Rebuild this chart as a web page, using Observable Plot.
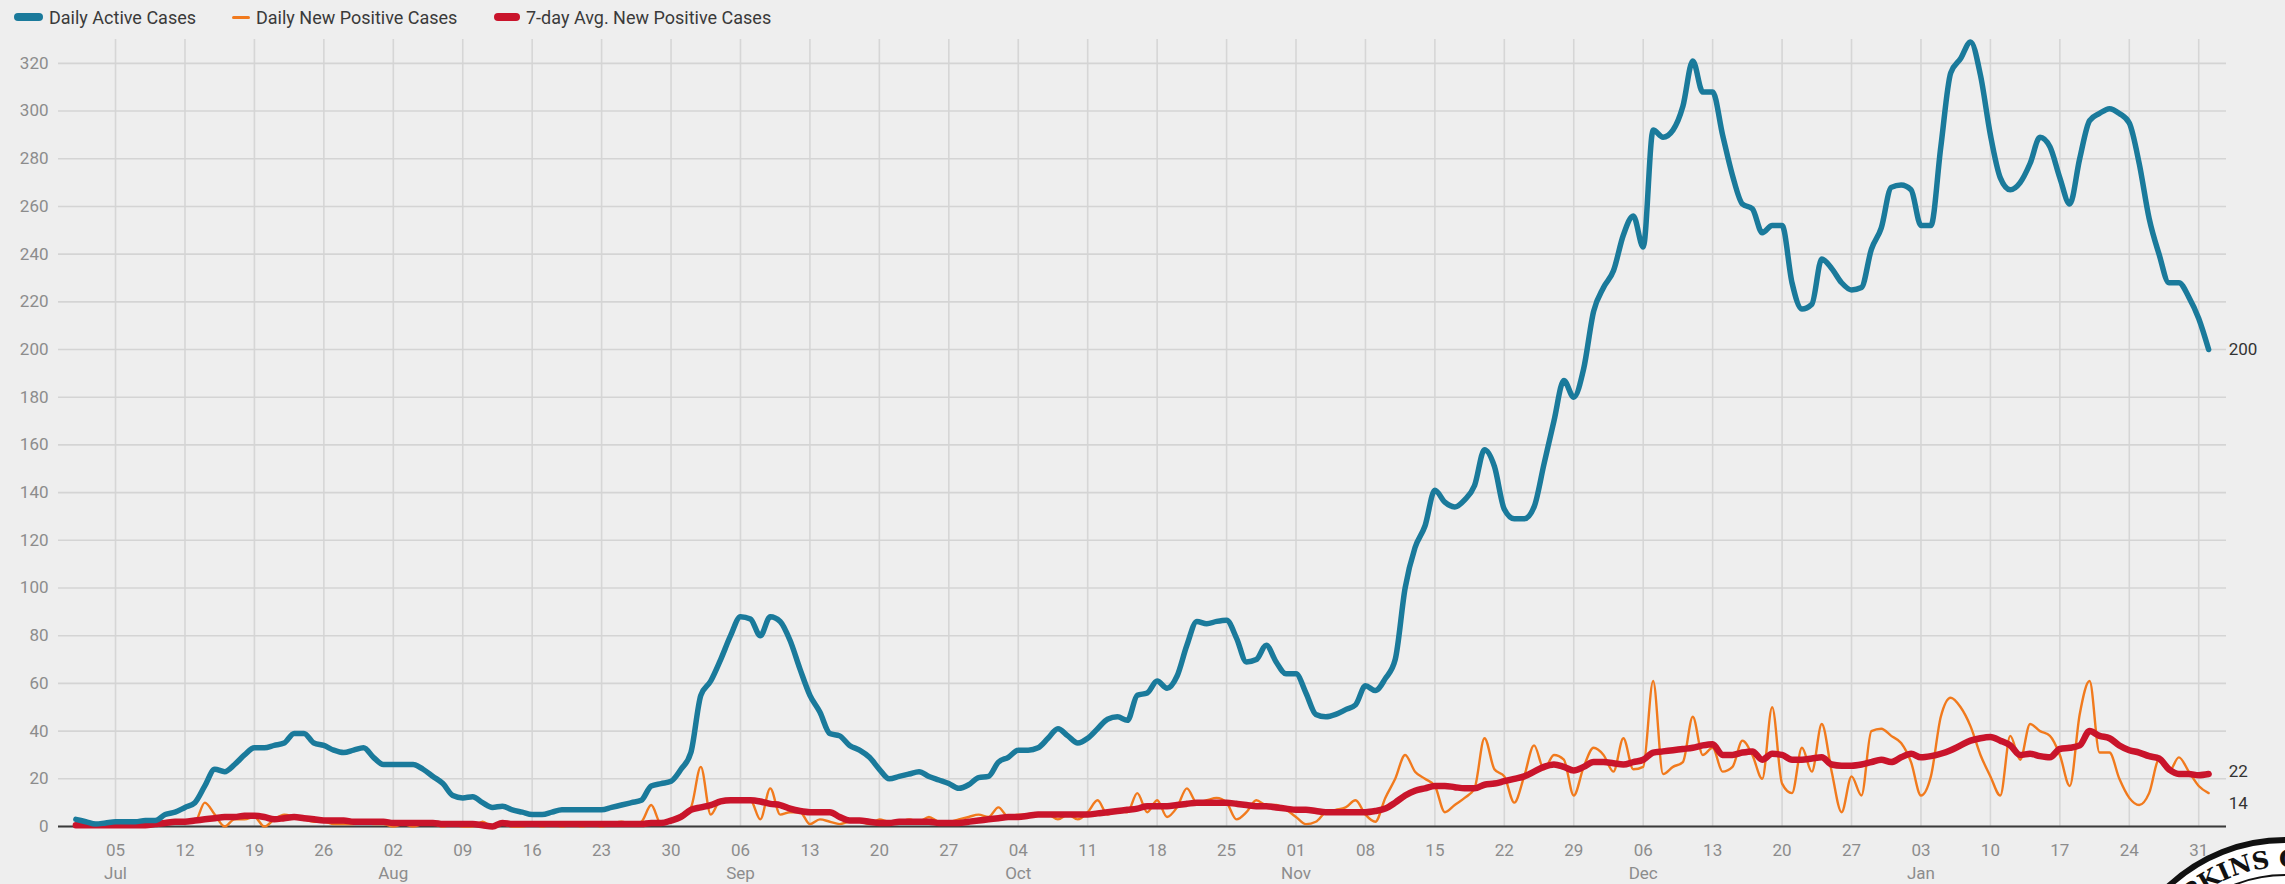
<!DOCTYPE html>
<html><head><meta charset="utf-8">
<script src="https://cdn.jsdelivr.net/npm/d3@7"></script>
<script src="https://cdn.jsdelivr.net/npm/@observablehq/plot@0.6"></script>
<style>
html,body{margin:0;padding:0;background:#eeeeee;}
body{width:2285px;height:884px;overflow:hidden;position:relative;font-family:Roboto,"Noto Sans",sans-serif;}
#legend{position:relative;height:32px;}
.item{position:absolute;top:1px;height:32px;display:flex;align-items:center;font-size:18px;color:#3a3a3a;white-space:nowrap;}
.sw{display:inline-block;border-radius:4px;margin-right:6px;}
#chart{position:absolute;left:0;top:32px;}
#seal{position:absolute;left:2140px;top:800px;width:145px;height:84px;overflow:hidden;}
</style></head><body>
<div id="legend"></div>
<div id="chart"></div>
<div id="seal"></div>
<script>
// ---- data (Jul 1 2020 .. Feb 1 2021, daily) ----
const activeJul = [3,2,1,1.5,2,2,2,2.5,2.5,5,6,8,10,17,24,23,26,30,33,33,34,35,39,39,35,34,32,31,32,33,29];
const activeAug = [26,26,26,26,24,21,18,13,12,12.5,10,8,8.5,7,6,5,5,6,7,7,7,7,7,8,9,10,11,17,18,19,24];
const activeSep = [31,55,61,70,80,88,87,80,88,86,78,66,55,48,39,38,34,32,29,24,20,21,22,23,21,19.5,18,16,17.5,20.5];
const activeOct = [21,27,29,32,32,33,37,41,38,35,37,41,45,46,44.5,55,56,61,58,63,76,86,85,86,86.5,79,69,70,76,69,64];
const activeNov = [64,56,47,46,47,49,51,59,57,62,70,100,117,126,141,136,134,137,143,158,151,133,129,129,134,152,170,187,180,192];
const activeDec = [216,226,233,248,256,243,292,289,292,302,321,308,308,290,273,261,259,249,252,252,228,217,219,238,234,228,225,226,242,251,268];
const activeJan = [269,267,252,252,285,316,322,329,315,290,272,267,270,278,289,285,272,261,280,296,299,301,299,295,278,255,240,228,228,222,213];
const activeFeb = [200];

const newJul = [0,0,0,0,0,0,0,0,1,1,2,2,2,10,5,0,3,3,4,0,3,5,4,3,2,2,1,1,1,2,1];
const newAug = [1,0,1,0,1,1,0,1,0,0,2,0,1,0,0,1,0,1,0,1,0,1,0,1,2,1,2,9,1,2,5];
const newSep = [8,25,5,11,11,11,11,3,16,5,6,6,1,3,2,1,2,2,1,3,2,2,3,2,4,2,2,3,4,5];
const newOct = [4,8,4,5,5,5,5,3,5,3,6,11,5,7,6,14,6,11,4,8,16,10,11,12,10,3,6,11,9,9,7];
const newNov = [4,1,2,6,7,8,11,5,2,12,20,30,23,20,17,6,9,12,16,37,24,21,10,21,34,24,30,28,13,25];
const newDec = [33,30,23,37,24,25,61,22,25,27,46,30,33,23,25,36,30,20,50,18,14,33,23,43,23,6,21,13,40,41,38];
const newJan = [35,27,13,21,46,54,50,42,30,21,13,38,28,43,40,38,30,17,47,61,31,31,20,12,9,14,28,23,29,23,17];
const newFeb = [14];

const avgJul = [0.5,0.5,0.5,0.5,0.5,0.5,0.5,0.5,1,1.5,2,2,2.5,3,3.5,4,4,4.5,4.5,4,3,3.5,4,3.5,3,2.5,2.5,2.5,2,2,2];
const avgAug = [2,1.5,1.5,1.5,1.5,1.5,1,1,1,1,0.5,0,1.5,1,1,1,1,1,1,1,1,1,1,1,1,1,1,1.5,1.5,2.5,4];
const avgSep = [7,8,9,10.5,11,11,11,10.5,9.5,9,7.5,6.5,6,6,6,4,2.5,2.5,2,1.5,1.5,2,2,2,2,1.5,1.5,1.5,2,2.5];
const avgOct = [3,3.5,4,4,4.5,5,5,5,5,5,5,5.5,6,6.5,7,7.5,8.5,8.5,8.5,9,9.5,10,10,10,10,9.5,9,8.5,8.5,8,7.5];
const avgNov = [7,7,6.5,6,6,6,6,6,6.5,7.5,10,13,15,16,17,17,16.5,16,16,17.5,18,19,20,21,23,25,26,25,23.5,25];
const avgDec = [27,27,26.5,26,27,28,31,31.5,32,32.5,33,34,34.5,30,30,31,31.5,28,30.5,30,28,28,28.5,29,26,25.5,25.5,26,27,28,27];
const avgJan = [29,30.5,29,29.5,30.5,32,34,36,37,37.5,36,34,30,30.5,29.5,29,32.5,33,34,40,38,37,34,32,31,29.5,28.5,24,22,22,21.5];
const avgFeb = [22];

const seriesNames = ["Daily Active Cases", "Daily New Positive Cases", "7-day Avg. New Positive Cases"];
const seriesColors = ["#1a7a9b", "#f17a1d", "#c9142b"];
const yTickValues = [0,20,40,60,80,100,120,140,160,180,200,220,240,260,280,300,320];

// ---- assemble ----
const active = [].concat(activeJul, activeAug, activeSep, activeOct, activeNov, activeDec, activeJan, activeFeb);
const newPos = [].concat(newJul, newAug, newSep, newOct, newNov, newDec, newJan, newFeb);
const avg7 = [].concat(avgJul, avgAug, avgSep, avgOct, avgNov, avgDec, avgJan, avgFeb);
const DAY = 864e5;
const t0 = Date.UTC(2020, 6, 1);
const dates = active.map((_, i) => new Date(t0 + i * DAY));
const rows = (vals) => vals.map((v, i) => ({date: dates[i], value: v}));

const ref = Date.UTC(2020, 6, 5);
const weekTicks = d3.utcSunday.range(new Date(ref), new Date(Date.UTC(2021, 1, 2)));
const monthTicks = weekTicks.filter(d => d.getUTCDate() <= 7);

// ---- legend ----
const legend = document.getElementById("legend");
const legLeft = [14, 232, 494];
const swW = [29, 18, 26], swH = [8, 3, 8];
seriesNames.forEach((n, i) => {
  const it = document.createElement("div");
  it.className = "item";
  it.style.left = legLeft[i] + "px";
  const sw = document.createElement("span");
  sw.className = "sw";
  sw.style.width = swW[i] + "px";
  sw.style.height = swH[i] + "px";
  sw.style.background = seriesColors[i];
  it.appendChild(sw);
  it.appendChild(document.createTextNode(n));
  legend.appendChild(it);
});

// ---- chart ----
const last = active.length - 1;
const endLabel = (vals, dy) => Plot.text([{date: dates[last], value: vals[last]}], {
  x: "date", y: "value", text: d => String(d.value), dx: 20, dy, textAnchor: "start", fill: "#333", fontSize: 17
});

const chart = Plot.plot({
  width: 2285,
  height: 852,
  marginLeft: 58,
  marginRight: 59,
  marginTop: 7,
  marginBottom: 58,
  style: {background: "#eeeeee", color: "#8c8c8c", fontFamily: "Roboto, 'Noto Sans', sans-serif", fontSize: "17px", overflow: "visible"},
  x: {type: "utc", domain: [new Date(ref - 5.75 * DAY), new Date(ref + 212.8 * DAY)]},
  y: {domain: [0, 330]},
  marks: [
    Plot.ruleX(weekTicks, {stroke: "#d6d6d6", strokeWidth: 1.6}),
    Plot.ruleY(yTickValues, {stroke: "#d4d4d4", strokeWidth: 1.6}),
    Plot.ruleY([0], {stroke: "#3a3a3a", strokeWidth: 2}),
    Plot.line(rows(newPos), {x: "date", y: "value", stroke: seriesColors[1], strokeWidth: 2.4, curve: "monotone-x"}),
    Plot.line(rows(avg7), {x: "date", y: "value", stroke: seriesColors[2], strokeWidth: 6.5, curve: "monotone-x", strokeLinecap: "round", strokeLinejoin: "round"}),
    Plot.line(rows(active), {x: "date", y: "value", stroke: seriesColors[0], strokeWidth: 5.5, curve: "monotone-x", strokeLinecap: "round", strokeLinejoin: "round"}),
    endLabel(active, 0),
    endLabel(avg7, -2),
    endLabel(newPos, 10),
    Plot.axisY({ticks: yTickValues, tickSize: 0, tickPadding: 10, label: null, fontSize: 17}),
    Plot.axisX({ticks: weekTicks, tickFormat: d3.utcFormat("%d"), tickSize: 0, tickPadding: 17, label: null, fontSize: 17}),
    Plot.axisX({ticks: monthTicks, tickFormat: d3.utcFormat("%b"), tickSize: 0, tickPadding: 40, label: null, fontSize: 17})
  ]
});
document.getElementById("chart").appendChild(chart);

// ---- decorative seal (bottom-right corner, mostly outside the frame) ----
const ns = "http://www.w3.org/2000/svg";
const seal = document.createElementNS(ns, "svg");
seal.setAttribute("width", 145); seal.setAttribute("height", 84);
const cx = 145, cy = 210, R = 170, Rt = 143;
const half = Math.PI * Rt / 2;
seal.innerHTML = `
<circle cx="${cx}" cy="${cy}" r="${R}" fill="#fff" stroke="#111" stroke-width="6"/>
<circle cx="${cx}" cy="${cy}" r="${Rt - 8}" fill="none" stroke="#111" stroke-width="2"/>
<path id="arc" d="M ${cx-Rt} ${cy} A ${Rt} ${Rt} 0 0 1 ${cx+Rt} ${cy}" fill="none"/>
<text font-family="'DejaVu Serif', 'Liberation Serif', serif" font-weight="bold" font-size="24" fill="#111">
<textPath href="#arc" startOffset="${half - 18}" text-anchor="middle">HOPKINS COUNTY</textPath></text>`;
document.getElementById("seal").appendChild(seal);
</script>
</body></html>
